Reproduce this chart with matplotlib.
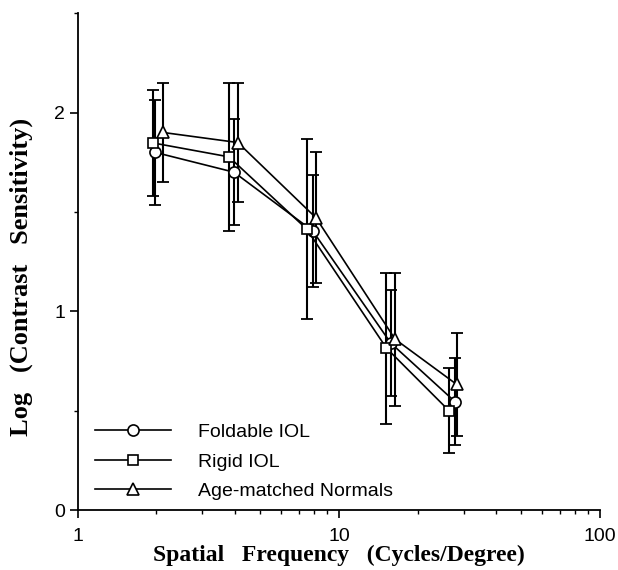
import matplotlib
matplotlib.use('Agg')
import matplotlib.pyplot as plt
from matplotlib.lines import Line2D
from matplotlib.ticker import FixedLocator, NullFormatter

# spatial frequency (cycles/degree) for each group, slightly offset per series
freq_foldable = [1.97, 3.96, 7.93, 15.8, 27.8]
freq_rigid = [1.94, 3.79, 7.52, 15.2, 26.4]
freq_normals = [2.11, 4.10, 8.17, 16.4, 28.2]

# log contrast sensitivity and error bar half-lengths
cs_foldable = [1.80, 1.70, 1.405, 0.84, 0.546]
err_foldable = [0.265, 0.268, 0.283, 0.265, 0.22]
cs_rigid = [1.847, 1.777, 1.414, 0.815, 0.50]
err_rigid = [0.265, 0.371, 0.455, 0.38, 0.215]
cs_normals = [1.90, 1.849, 1.47, 0.86, 0.633]
err_normals = [0.25, 0.30, 0.33, 0.335, 0.258]

labels = ['Foldable IOL', 'Rigid IOL', 'Age-matched Normals']
markers = ['o', 's', '^']
msizes = [8, 7.5, 8]

sans = ['Liberation Sans', 'DejaVu Sans']
serif = ['Liberation Serif', 'DejaVu Serif']

fig = plt.figure(figsize=(6.18, 5.70), dpi=100)
ax = fig.add_axes([0.126, 0.105, 0.845, 0.872])

series = [
    (freq_foldable, cs_foldable, err_foldable),
    (freq_rigid, cs_rigid, err_rigid),
    (freq_normals, cs_normals, err_normals),
]

for (x, y, e), m, ms in zip(series, markers, msizes):
    ax.errorbar(x, y, yerr=e, fmt='none', ecolor='black', elinewidth=1.5,
                capsize=4, capthick=1.3, zorder=2)
for (x, y, e), m, ms in zip(series, markers, msizes):
    ax.plot(x, y, color='black', lw=1.2, marker=m, markersize=ms,
            markerfacecolor='white', markeredgecolor='black', markeredgewidth=1.2,
            zorder=3)

ax.set_xscale('log')
ax.set_xlim(1, 100)
ax.set_ylim(0, 2.5)

ax.xaxis.set_major_locator(FixedLocator([1, 10, 100]))
ax.set_xticklabels(['1', '10', '100'])
ax.xaxis.set_minor_locator(FixedLocator([2, 3, 4, 5, 6, 7, 8, 9, 20, 30, 40, 50, 60, 70, 80, 90]))
ax.xaxis.set_minor_formatter(NullFormatter())
ax.yaxis.set_major_locator(FixedLocator([0, 1, 2]))
ax.set_yticklabels(['0', '1', '2'])
ax.yaxis.set_minor_locator(FixedLocator([0.5, 1.5, 2.5]))

for side in ['top', 'right']:
    ax.spines[side].set_visible(False)
for side in ['left', 'bottom']:
    ax.spines[side].set_linewidth(1.3)

ax.tick_params(which='major', direction='out', length=6, width=1.2, labelsize=14)
ax.tick_params(which='minor', direction='out', length=3, width=1.0)
ax.tick_params(axis='x', which='major', pad=7)
ax.tick_params(axis='y', which='major', pad=3)
for lab in ax.get_xticklabels() + ax.get_yticklabels():
    lab.set_family(sans)

ax.set_xlabel('Spatial   Frequency   (Cycles/Degree)', family=serif, fontweight='bold',
              fontsize=17, labelpad=0)
ax.set_ylabel('Log   (Contrast   Sensitivity)', family=serif, fontweight='bold',
              fontsize=19)
ax.yaxis.set_label_coords(-0.086, 0.47)

handles = [Line2D([], [], color='black', lw=1.2, marker=m, markersize=ms,
                  markerfacecolor='white', markeredgecolor='black', markeredgewidth=1.2)
           for m, ms in zip(markers, msizes)]
ax.legend(handles, labels, loc='lower left', bbox_to_anchor=(0.033, 0.02),
          frameon=False, prop={'family': sans, 'size': 14}, handlelength=3.9,
          handletextpad=1.4, labelspacing=0.62, borderpad=0, borderaxespad=0)

fig.savefig('out.png', dpi=100)
